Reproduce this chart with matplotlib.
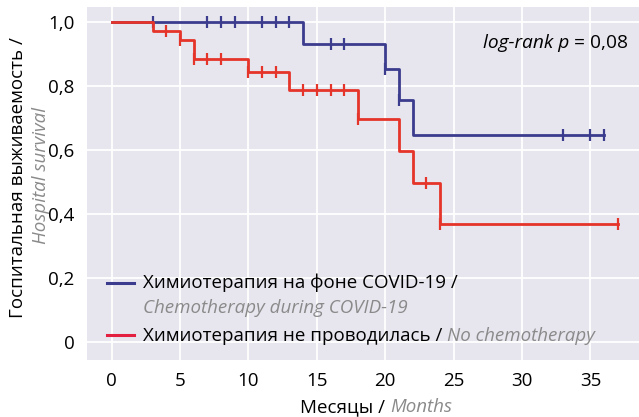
import matplotlib
matplotlib.use("Agg")
import matplotlib.pyplot as plt
import numpy as np

plt.rcParams['font.family'] = ['Open Sans', 'DejaVu Sans']

# ---- data ----
blue_event_times = [0, 14, 20, 21, 22]
blue_surv = [1.0, 0.933, 0.853, 0.758, 0.649]
blue_end = 36
blue_censor = [3, 7, 8, 9, 11, 12, 13, 16, 17, 20, 21, 33, 35, 36]

red_event_times = [0, 3, 5, 6, 10, 13, 18, 21, 22, 24]
red_surv = [1.0, 0.973, 0.944, 0.884, 0.845, 0.788, 0.699, 0.598, 0.498, 0.369]
red_end = 37
red_censor = [4, 5, 6, 7, 8, 10, 11, 12, 14, 15, 16, 17, 18, 23, 24, 37]

x_ticks = [0, 5, 10, 15, 20, 25, 30, 35]
y_ticks = [0, 0.2, 0.4, 0.6, 0.8, 1.0]
y_tick_labels = ['0', '0,2', '0,4', '0,6', '0,8', '1,0']

BLUE = '#3c3c8e'
RED = '#e5342a'
GRAY = '#8a8a8a'
BG = '#e7e6ef'

W, H = 639, 417
fig = plt.figure(figsize=(W / 100, H / 100), dpi=100)
ax = fig.add_axes([87 / W, (H - 360) / H, (W - 87) / W, (360 - 7) / H])
ax.set_facecolor(BG)
for s in ax.spines.values():
    s.set_visible(False)
ax.set_xlim(-1.8, 38.55)
ax.set_ylim(-0.056, 1.048)
ax.set_xticks(x_ticks)
ax.set_yticks(y_ticks)
ax.set_yticklabels(y_tick_labels)
ax.tick_params(length=0, labelsize=13.5)
ax.tick_params(axis='y', pad=9)
ax.tick_params(axis='x', pad=9)
ax.grid(True, color='white', lw=1.3)
ax.set_axisbelow(True)


def km(times, surv, end):
    xs = list(times) + [end]
    ys = list(surv) + [surv[-1]]
    return xs, ys


def surv_at(times, surv, t):
    idx = np.searchsorted(times, t, side='right') - 1
    return surv[idx]


for times, surv, end, cens, col, z in [
    (blue_event_times, blue_surv, blue_end, blue_censor, BLUE, 3),
    (red_event_times, red_surv, red_end, red_censor, RED, 4),
]:
    xs, ys = km(times, surv, end)
    ax.step(xs, ys, where='post', color=col, lw=2.0, zorder=z)
    cy = [surv_at(times, surv, t) for t in cens]
    ax.plot(cens, cy, ls='none', marker='|', ms=8.5, mew=1.6, color=col, zorder=z)

fig.canvas.draw()
renderer = fig.canvas.get_renderer()


def fx(x):
    return x / W


def fy(y):
    return 1 - y / H


def chain(x, y, parts, size, ha='left'):
    """parts: list of (text, color, style). y is baseline in pixels."""
    cur = x
    arts = []
    for txt, col, st in parts:
        t = fig.text(fx(cur), fy(y), txt, color=col, style=st, fontsize=size,
                     ha='left', va='baseline')
        ext = t.get_window_extent(renderer)
        cur = ext.x1
        arts.append(t)
    if ha != 'left':
        total = cur - x
        shift = total if ha == 'right' else total / 2
        for t in arts:
            px, py = t.get_position()
            t.set_position((px - shift / W, py))
    return arts


FS = 13.5
# log-rank text
chain(628, 48, [('log-rank p', 'black', 'italic'), (' = 0,08', 'black', 'normal')], 13.8, ha='right')

# legend
ax.plot([fx(107), fx(134)], [fy(283), fy(283)], transform=fig.transFigure, color=BLUE, lw=2.2, clip_on=False)
ax.plot([fx(107), fx(134)], [fy(335), fy(335)], transform=fig.transFigure, color='#e3203f', lw=2.2, clip_on=False)
chain(143, 288, [('Химиотерапия на фоне COVID-19 /', 'black', 'normal')], FS)
chain(143, 313, [('Chemotherapy during COVID-19', GRAY, 'italic')], FS)
chain(143, 341, [('Химиотерапия не проводилась / ', 'black', 'normal'), ('No chemotherapy', GRAY, 'italic')], FS)

# x label
chain(376, 412, [('Месяцы / ', 'black', 'normal'), ('Months', GRAY, 'italic')], FS, ha='center')

# y label
fig.text(fx(18), fy(178), 'Госпитальная выживаемость /', rotation=90, fontsize=FS,
         ha='center', va='center', color='black')
fig.text(fx(41), fy(175), 'Hospital survival', rotation=90, fontsize=FS,
         ha='center', va='center', color=GRAY, style='italic')

fig.savefig('out.png', dpi=100)
